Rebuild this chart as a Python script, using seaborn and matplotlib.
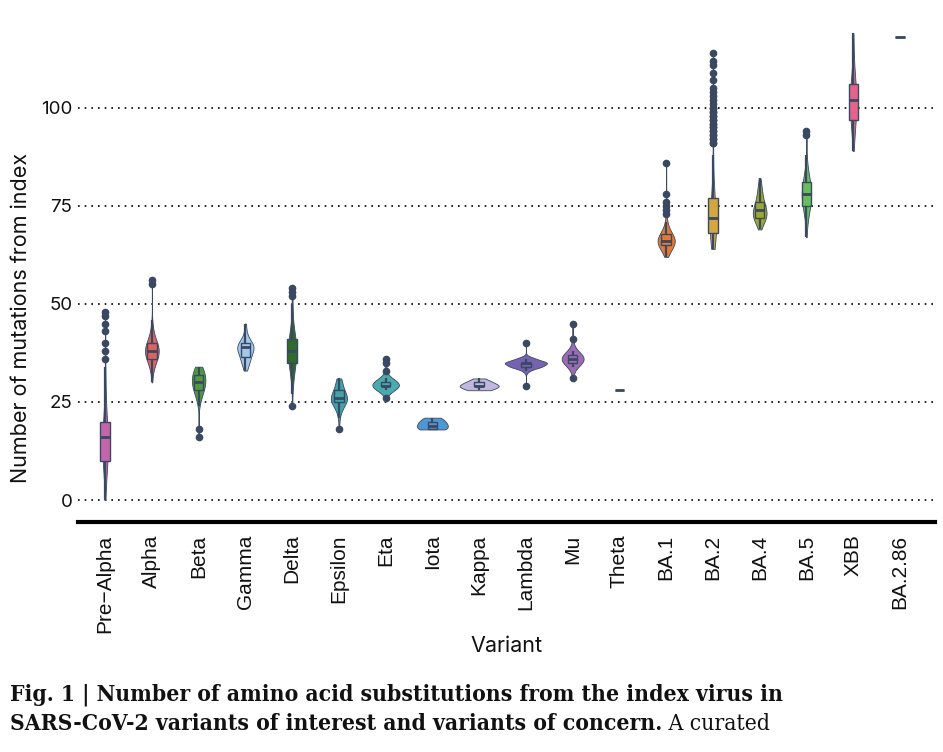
import numpy as np
import pandas as pd
import matplotlib
matplotlib.use("Agg")
import matplotlib.pyplot as plt
import seaborn as sns

# variants in plotting order
variants = ["Pre−Alpha", "Alpha", "Beta", "Gamma", "Delta", "Epsilon", "Eta", "Iota",
            "Kappa", "Lambda", "Mu", "Theta", "BA.1", "BA.2", "BA.4", "BA.5", "XBB", "BA.2.86"]

colors = ["#c466ab", "#dc645f", "#4f9a3e", "#a3c8ec", "#2f6b2a", "#41a2a8", "#48abad", "#4f97d4",
          "#c0b6de", "#7563b0", "#9b6bb3", "#8a8a8a", "#e67a35", "#d3a640", "#9ba832", "#68be5a",
          "#e4638b", "#8a8a8a"]

# mutation counts (value) and number of sequences with that count
pre_alpha_vals = [0, 2, 4, 6, 8, 10, 12, 14, 16, 18, 20, 22, 24, 26, 28, 30, 32, 34, 36, 38, 40, 43, 45, 47, 48]
pre_alpha_cnt = [1, 2, 4, 7, 10, 14, 17, 17, 19, 14, 10, 7, 5, 4, 3, 2, 2, 1, 1, 1, 1, 1, 1, 1, 1]
alpha_vals = [30, 32, 33, 34, 35, 36, 37, 38, 39, 40, 41, 42, 43, 44, 45, 46, 55, 56]
alpha_cnt = [1, 2, 3, 5, 8, 12, 16, 18, 16, 12, 8, 5, 3, 2, 1, 1, 1, 1]
beta_vals = [16, 18, 24, 25, 26, 27, 28, 29, 30, 31, 32, 33, 34]
beta_cnt = [1, 1, 1, 2, 3, 6, 7, 9, 10, 10, 9, 8, 6]
gamma_vals = [33, 34, 35, 36, 37, 38, 39, 40, 41, 42, 43, 44, 45]
gamma_cnt = [2, 3, 5, 6, 7, 8, 14, 9, 4, 2, 1, 1, 1]
delta_vals = [24, 27, 29, 30, 31, 32, 33, 34, 35, 36, 37, 38, 39, 40, 41, 42, 43, 44, 46, 48, 50, 52, 53, 54]
delta_cnt = [1, 1, 1, 2, 2, 3, 4, 5, 6, 7, 8, 9, 8, 7, 6, 5, 4, 3, 2, 2, 1, 1, 1, 1]
epsilon_vals = [18, 21, 22, 23, 24, 25, 26, 27, 28, 29, 30, 31]
epsilon_cnt = [1, 1, 1, 2, 4, 8, 10, 6, 4, 3, 3, 3]
eta_vals = [26, 28, 29, 30, 31, 33, 35, 36]
eta_cnt = [1, 6, 12, 10, 4, 1, 1, 1]
iota_vals = [18, 19, 20, 21]
iota_cnt = [7, 7, 6, 4]
kappa_vals = [28, 29, 30, 31]
kappa_cnt = [4, 8, 5, 2]
lambda_vals = [29, 33, 34, 35, 36, 40]
lambda_cnt = [1, 6, 30, 42, 18, 1]
mu_vals = [31, 34, 35, 36, 37, 38, 41, 45]
mu_cnt = [1, 2, 6, 10, 6, 2, 1, 1]
theta_vals = [28]
theta_cnt = [1]
ba1_vals = [62, 63, 64, 65, 66, 67, 68, 69, 70, 71, 73, 74, 75, 76, 78, 86]
ba1_cnt = [2, 5, 10, 18, 22, 19, 10, 5, 3, 2, 1, 1, 1, 1, 1, 1]
ba2_vals = [64, 65, 66, 67, 68, 69, 70, 71, 72, 73, 74, 75, 76, 77, 78, 79, 80, 82, 84, 86, 88,
            91, 92, 93, 94, 95, 96, 97, 98, 99, 100, 101, 102, 103, 104, 105, 107, 109, 111, 112, 114]
ba2_cnt = [6, 12, 18, 20, 22, 22, 22, 21, 18, 16, 14, 12, 11, 10, 9, 8, 6, 5, 4, 3, 2,
           2, 2, 2, 2, 2, 2, 2, 2, 2, 2, 1, 1, 1, 1, 1, 1, 1, 1, 1, 1]
ba4_vals = [69, 70, 71, 72, 73, 74, 75, 76, 77, 78, 79, 80, 81, 82]
ba4_cnt = [1, 3, 6, 9, 10, 9, 6, 5, 4, 3, 3, 2, 2, 1]
ba5_vals = [67, 69, 71, 72, 73, 74, 75, 76, 77, 78, 79, 80, 81, 82, 83, 84, 86, 88, 93, 94]
ba5_cnt = [1, 1, 2, 3, 4, 5, 6, 7, 8, 9, 8, 7, 6, 5, 4, 3, 2, 1, 1, 1]
xbb_vals = [89, 91, 93, 95, 96, 97, 98, 99, 100, 101, 102, 103, 104, 105, 106, 107, 108, 110, 112, 114, 116, 119]
xbb_cnt = [1, 2, 2, 3, 4, 3, 2, 3, 3, 4, 4, 4, 3, 3, 3, 3, 2, 2, 2, 1, 1, 1]
ba286_vals = [118]
ba286_cnt = [1]

all_vals = [pre_alpha_vals, alpha_vals, beta_vals, gamma_vals, delta_vals, epsilon_vals, eta_vals,
            iota_vals, kappa_vals, lambda_vals, mu_vals, theta_vals, ba1_vals, ba2_vals, ba4_vals,
            ba5_vals, xbb_vals, ba286_vals]
all_cnt = [pre_alpha_cnt, alpha_cnt, beta_cnt, gamma_cnt, delta_cnt, epsilon_cnt, eta_cnt,
           iota_cnt, kappa_cnt, lambda_cnt, mu_cnt, theta_cnt, ba1_cnt, ba2_cnt, ba4_cnt,
           ba5_cnt, xbb_cnt, ba286_cnt]

rows = []
for name, v, c in zip(variants, all_vals, all_cnt):
    for val in np.repeat(v, c):
        rows.append((name, float(val)))
df = pd.DataFrame(rows, columns=["Variant", "Mutations"])

# violins only for variants with more than one sequence
counts = df.groupby("Variant").size()
multi = [v for v in variants if counts[v] > 1]
df_multi = df[df["Variant"].isin(multi)]

dark = "#3b4862"
sns.set_style("white")

fig = plt.figure(figsize=(9.43, 7.52), dpi=100)
ax = fig.add_axes([78 / 943, 1 - 522 / 752, (935 - 78) / 943, 502 / 752])

# one colour call so "area" scaling is shared by all violins, recoloured afterwards
n0 = len(ax.collections)
sns.violinplot(data=df_multi, x="Variant", y="Mutations", order=variants, color="white",
               density_norm="area", cut=0, width=0.9, inner=None, linecolor=dark,
               linewidth=0.6, saturation=1, bw_adjust=1.2, ax=ax)
for coll, name in zip(ax.collections[n0:], multi):
    coll.set_facecolor(colors[variants.index(name)])

sns.boxplot(data=df, x="Variant", y="Mutations", hue="Variant", order=variants,
            hue_order=variants, palette=colors, width=0.2, saturation=1, linecolor=dark,
            linewidth=1, fliersize=4.5, legend=False, ax=ax,
            medianprops={"linewidth": 2},
            whiskerprops={"linewidth": 1.6},
            capprops={"linewidth": 0},
            flierprops={"marker": "o", "markerfacecolor": dark, "markeredgecolor": dark})

ax.set_xlim(-0.58, 17.75)
ax.set_ylim(-5.6, 122.4)
ax.set_yticks([0, 25, 50, 75, 100])
ax.yaxis.grid(True, color="black", linestyle=(0, (1, 3)), linewidth=1.2)
ax.xaxis.grid(False)
ax.set_axisbelow(True)

for s in ["left", "right", "top"]:
    ax.spines[s].set_visible(False)
ax.spines["bottom"].set_linewidth(3)
ax.spines["bottom"].set_color("black")

ax.tick_params(axis="y", length=0, pad=4, labelsize=13.5, labelcolor="#111111")
ax.tick_params(axis="x", length=5, width=1, color="#444444", pad=4, labelsize=15,
               labelrotation=90, labelcolor="#111111")
for t in ax.get_yticklabels():
    t.set_family("Inter")
for t in ax.get_xticklabels():
    t.set_family("Liberation Sans")

ax.set_ylabel("Number of mutations from index", family="Inter", fontsize=15.5, color="#111111")
ax.set_xlabel("Variant", family="Inter", fontsize=15.5, color="#111111")
ax.yaxis.set_label_coords((31 - 78) / 857, (522 - 318) / 502)
ax.xaxis.set_label_coords(0.5, (522 - 636) / 502)

# caption
fig.canvas.draw()
r = fig.canvas.get_renderer()
line1 = "Fig. 1 | Number of amino acid substitutions from the index virus in"
line2b = "SARS-CoV-2 variants of interest and variants of concern."
line2r = " A curated"
cap = dict(family="DejaVu Serif", fontstretch="condensed", va="baseline", ha="left",
           color="#111111")
t1 = fig.text(10 / 943, 1 - 701 / 752, line1, weight="bold", fontsize=20, **cap)
w = t1.get_window_extent(r).width
fs = 20 * 770 / w
t1.set_fontsize(fs)
t2 = fig.text(10 / 943, 1 - 730 / 752, line2b, weight="bold", fontsize=fs, **cap)
w2 = t2.get_window_extent(r).width
fig.text((10 + w2) / 943, 1 - 730 / 752, line2r, fontsize=fs, **cap)

fig.savefig("out.png", dpi=100)
